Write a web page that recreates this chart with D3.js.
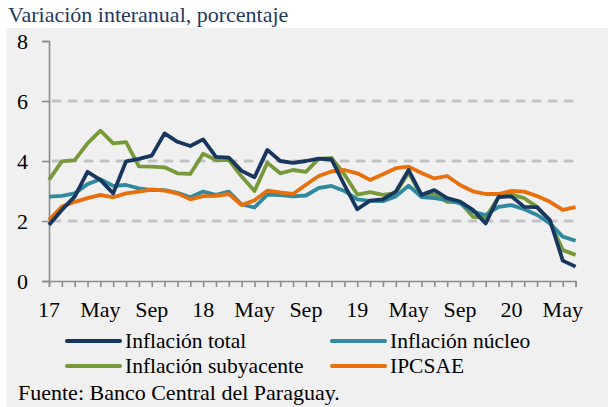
<!DOCTYPE html>
<html lang="es">
<head>
<meta charset="UTF-8">
<title>Inflación Paraguay</title>
<script src="https://d3js.org/d3.v7.min.js"></script>
<style>
    html, body {
        margin:0;
        padding:0;
        background:#fff;
    }
</style>
</head>
<body>
<div id="chart"></div>
<script>
    // meses ene-2017 .. jun-2020
    const months = d3.range(42);
    const tickLabels = ["17", "May", "Sep", "18", "May", "Sep", "19", "May", "Sep", "20", "May"];

    const total = [1.87, 2.37, 2.81, 3.64, 3.37, 2.92, 3.99, 4.07, 4.18, 4.92, 4.64, 4.50,
        4.72, 4.14, 4.11, 3.67, 3.46, 4.37, 4.00, 3.94, 4.00, 4.08, 4.05, 3.20,
        2.39, 2.68, 2.72, 2.98, 3.70, 2.87, 3.03, 2.76, 2.65, 2.37, 1.92, 2.80,
        2.82, 2.47, 2.46, 2.03, 0.68, 0.48];
    const nucleo = [2.81, 2.84, 2.92, 3.23, 3.39, 3.17, 3.20, 3.09, 3.03, 3.03, 2.94, 2.79,
        2.98, 2.87, 2.98, 2.55, 2.45, 2.88, 2.86, 2.82, 2.85, 3.10, 3.17, 3.00,
        2.72, 2.67, 2.66, 2.82, 3.18, 2.80, 2.76, 2.70, 2.59, 2.31, 2.20, 2.47,
        2.53, 2.39, 2.20, 1.92, 1.48, 1.34];
    const subyacente = [3.37, 3.99, 4.03, 4.59, 5.01, 4.59, 4.63, 3.82, 3.81, 3.79, 3.59, 3.57,
        4.24, 4.03, 4.03, 3.48, 3.00, 3.94, 3.59, 3.70, 3.64, 4.07, 4.10, 3.55,
        2.88, 2.96, 2.87, 2.93, 3.62, 2.82, 2.88, 2.64, 2.63, 2.14, 2.12, 2.79,
        2.88, 2.76, 2.47, 1.98, 1.03, 0.87];
    const ipcsae = [2.03, 2.48, 2.64, 2.76, 2.87, 2.79, 2.92, 2.98, 3.05, 3.01, 2.92, 2.72,
        2.83, 2.84, 2.90, 2.53, 2.69, 3.01, 2.95, 2.90, 3.21, 3.50, 3.65, 3.70,
        3.59, 3.37, 3.56, 3.76, 3.81, 3.60, 3.42, 3.50, 3.20, 2.99, 2.90, 2.90,
        3.00, 2.98, 2.83, 2.64, 2.37, 2.46];

    const series = [
        { name: "Inflación total", values: total, color: "#17375e" },
        { name: "Inflación núcleo", values: nucleo, color: "#31899f" },
        { name: "Inflación subyacente", values: subyacente, color: "#77993a" },
        { name: "IPCSAE", values: ipcsae, color: "#e8700c" }
    ];
    // orden de dibujo como en el original
    const drawOrder = [2, 1, 3, 0];

    const FONT = "'Liberation Serif', serif";
    const W = 608, H = 407;
    const svg = d3.select("#chart").append("svg")
        .attr("width", W)
        .attr("height", H)
        .attr("font-family", FONT);

    svg.append("rect")
        .attr("x", 7).attr("y", 28)
        .attr("width", W - 7).attr("height", H - 28)
        .attr("fill", "#f0f0f0");

    svg.append("text")
        .attr("x", 8).attr("y", 22)
        .attr("fill", "#1f3864")
        .attr("font-size", 22)
        .text("Variación interanual, porcentaje");

    const x = d3.scaleLinear().domain([0, 41]).range([49, 575.6]);
    const y = d3.scaleLinear().domain([0, 8]).range([281, 41]);

    // rejilla
    svg.append("g")
        .selectAll("line")
        .data([2, 4, 6])
        .join("line")
        .attr("x1", x(0) + 4).attr("x2", x(41) - 2)
        .attr("y1", d => y(d)).attr("y2", d => y(d))
        .attr("stroke", "#c3c3c3")
        .attr("stroke-width", 3)
        .attr("stroke-dasharray", "7,9")
        .attr("stroke-linecap", "round");

    // eje y
    const yAxis = svg.append("g")
        .attr("transform", `translate(${x(0)},0)`)
        .call(d3.axisLeft(y).tickValues([0, 2, 4, 6, 8]).tickSize(7).tickPadding(14));
    yAxis.attr("font-family", FONT);
    yAxis.selectAll("text").attr("font-size", 22).attr("fill", "#000");

    // eje x
    const xAxis = svg.append("g")
        .attr("transform", `translate(0,${y(0)})`)
        .call(d3.axisBottom(x).tickValues(months).tickSize(6).tickFormat(() => ""));
    [yAxis, xAxis].forEach(g => {
        g.select(".domain").attr("stroke", "#8c8c8c").attr("stroke-width", 1.6);
        g.selectAll(".tick line").attr("stroke", "#8c8c8c").attr("stroke-width", 1.6);
    });

    svg.append("g")
        .selectAll("text")
        .data(tickLabels)
        .join("text")
        .attr("x", (d, i) => x(i * 4))
        .attr("y", 317)
        .attr("text-anchor", "middle")
        .attr("font-size", 22)
        .text(d => d);

    const line = d3.line()
        .x((d, i) => x(i))
        .y(d => y(d));

    svg.append("g")
        .selectAll("path")
        .data(drawOrder.map(k => series[k]))
        .join("path")
        .attr("d", d => line(d.values))
        .attr("fill", "none")
        .attr("stroke", d => d.color)
        .attr("stroke-width", 3.8)
        .attr("stroke-linejoin", "round");

    // leyenda
    const legendPos = [
        { lx: 67, ly: 341 },
        { lx: 332, ly: 341 },
        { lx: 67, ly: 366 },
        { lx: 332, ly: 366 }
    ];
    const legend = svg.append("g")
        .selectAll("g")
        .data(series)
        .join("g")
        .attr("transform", (d, i) => `translate(${legendPos[i].lx},${legendPos[i].ly})`);
    legend.append("line")
        .attr("x1", 0).attr("x2", 53)
        .attr("stroke", d => d.color)
        .attr("stroke-width", 4)
        .attr("stroke-linecap", "round");
    legend.append("text")
        .attr("x", 58).attr("y", 6.5)
        .attr("font-size", 21.5)
        .text(d => d.name);

    svg.append("text")
        .attr("x", 18).attr("y", 400)
        .attr("font-size", 22)
        .text("Fuente: Banco Central del Paraguay.");
</script>
</body>
</html>
